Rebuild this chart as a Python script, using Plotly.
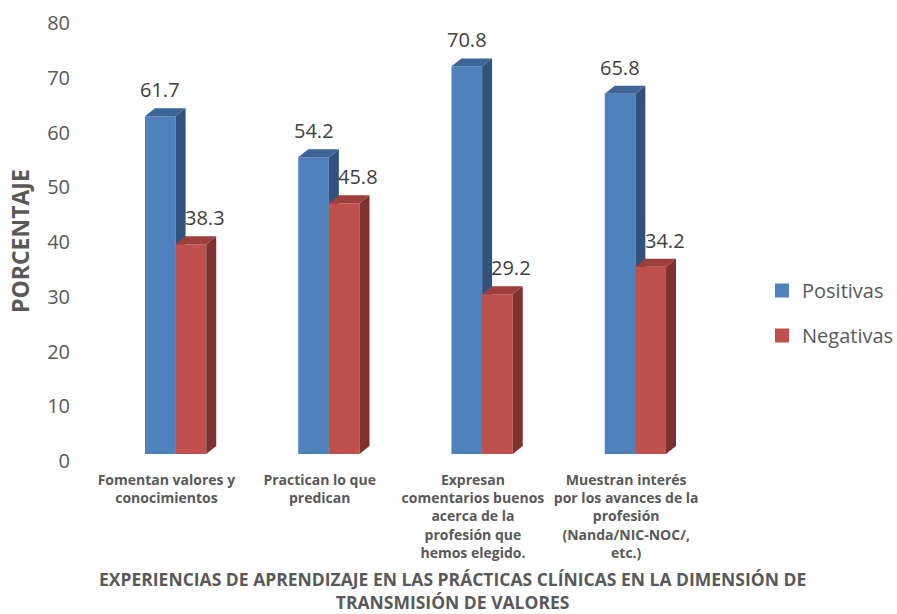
import plotly.graph_objects as go

# Survey results: share of positive / negative answers per item
categorias = [
    "Fomentan valores y<br>conocimientos",
    "Practican lo que<br>predican",
    "Expresan<br>comentarios buenos<br>acerca de la<br>profesión que<br>hemos elegido.",
    "Muestran interés<br>por los avances de la<br>profesión<br>(Nanda/NIC-NOC/,<br>etc.)",
]
positivas = [61.7, 54.2, 70.8, 65.8]
negativas = [38.3, 45.8, 29.2, 34.2]

FONT = "Open Sans"
GRIS = "#595959"

# Pseudo-3D bar geometry (data units)
ANCHO = 0.2      # width of each bar's front face
DX = 0.065       # horizontal depth offset
DY = 1.46        # vertical depth offset

W, H = 897, 614
ML, MR, MT, MB = 99, 185, 16, 160
X_RANGE = [-0.5, 3.5]
PLOT_W = W - ML - MR
PLOT_H = H - MT - MB


def px_to_paper_x(px):
    return (px - ML) / PLOT_W


def px_to_paper_y(py):
    return (H - MB - py) / PLOT_H


def caras(valores, desplazamiento):
    """Front, side and top polygons for a series of bars."""
    fx, fy, sx, sy, tx, ty = [], [], [], [], [], []
    for i, v in enumerate(valores):
        x0 = i + desplazamiento
        x1 = x0 + ANCHO
        fx += [x0, x1, x1, x0, x0, None]
        fy += [0, 0, v, v, 0, None]
        sx += [x1, x1 + DX, x1 + DX, x1, x1, None]
        sy += [0, DY, v + DY, v, 0, None]
        tx += [x0, x1, x1 + DX, x0 + DX, x0, None]
        ty += [v, v, v + DY, v + DY, v, None]
    return (fx, fy), (sx, sy), (tx, ty)


series = [
    ("Positivas", positivas, -ANCHO, ("#4F81BD", "#31527D", "#3D6598"), 0),
    ("Negativas", negativas, 0.0, ("#C0504D", "#7D3230", "#9E3F3C"), 14),
]

fig = go.Figure()

for nombre, valores, desp, colores, _ in series:
    for (xs, ys), color in zip(caras(valores, desp), colores):
        fig.add_trace(go.Scatter(
            x=xs, y=ys, mode="lines", fill="toself", fillcolor=color,
            line=dict(width=0, color=color), hoverinfo="skip",
            showlegend=False,
        ))

# Legend entries
for nombre, valores, desp, colores, _ in series:
    fig.add_trace(go.Scatter(
        x=[None], y=[None], mode="markers", name=nombre,
        legendgroup=nombre,
        marker=dict(symbol="square", size=14, color=colores[0]),
    ))

# Value labels above each bar
anotaciones = []
for nombre, valores, desp, colores, xshift in series:
    for i, v in enumerate(valores):
        anotaciones.append(dict(
            x=i + desp + ANCHO / 2, y=v + DY, xref="x", yref="y",
            text=f"{v:.1f}", showarrow=False, yanchor="bottom",
            xshift=xshift, yshift=3,
            font=dict(family=FONT, size=20, color="#404040"),
        ))

# Axis titles
anotaciones.append(dict(
    x=px_to_paper_x(452), y=px_to_paper_y(590), xref="paper", yref="paper",
    text="EXPERIENCIAS DE APRENDIZAJE EN LAS PRÁCTICAS CLÍNICAS EN LA DIMENSIÓN DE<br>TRANSMISIÓN DE VALORES",
    showarrow=False, xanchor="center", yanchor="middle",
    font=dict(family=FONT, size=17.5, color=GRIS, weight="bold"),
))
anotaciones.append(dict(
    x=px_to_paper_x(20), y=px_to_paper_y(241), xref="paper", yref="paper",
    text="PORCENTAJE", textangle=-90, showarrow=False,
    xanchor="center", yanchor="middle",
    font=dict(family=FONT, size=23, color=GRIS, weight="bold"),
))

fig.update_layout(
    width=W, height=H,
    margin=dict(l=ML, r=MR, t=MT, b=MB, autoexpand=False),
    plot_bgcolor="white", paper_bgcolor="white",
    font=dict(family=FONT, color=GRIS),
    annotations=anotaciones,
    legend=dict(
        x=px_to_paper_x(762), y=px_to_paper_y(271),
        xanchor="left", yanchor="top",
        font=dict(family=FONT, size=20, color=GRIS),
        tracegroupgap=16, traceorder="grouped",
        bgcolor="rgba(0,0,0,0)",
    ),
    xaxis=dict(
        range=X_RANGE, showgrid=False, zeroline=False, showline=False,
        tickmode="array", tickvals=[i - 0.06 for i in range(len(categorias))],
        ticktext=categorias, ticks="", ticklabelstandoff=16,
        tickfont=dict(family=FONT, size=14, color=GRIS, weight="bold"),
    ),
    yaxis=dict(
        range=[0, 80], dtick=10, showgrid=False, zeroline=False,
        showline=False, ticks="", ticklabelstandoff=28, ticklabelshift=7,
        tickfont=dict(family=FONT, size=20, color=GRIS),
    ),
    showlegend=True,
)

fig.write_html("out.html")
